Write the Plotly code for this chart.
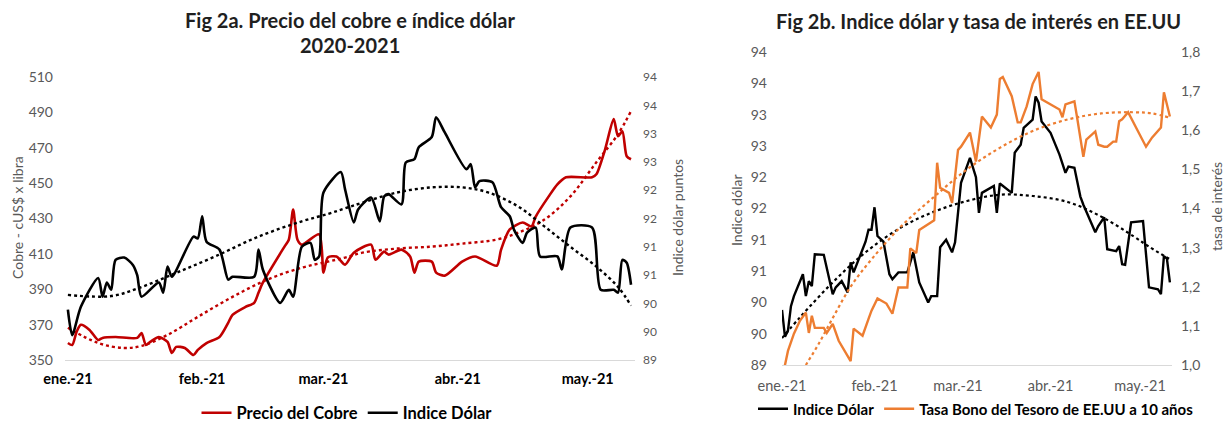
import pandas as pd
import plotly.graph_objects as go

# ---------------- Data ----------------
# Days counted from 2021-01-01
BASE = "2021-01-01"

# Fig 2a: copper price (cUS$ per lb)
cobre_dias = [0, 1, 2, 3, 5, 7, 8, 11, 16, 17, 18, 19, 21, 23, 24, 25, 27, 29, 30, 32, 35, 37, 38, 41,
              43, 44, 45, 50, 51, 52, 53, 54, 58, 59, 60, 62, 64, 66, 70, 71, 73, 74, 77, 79, 80, 81,
              84, 85, 87, 91, 94, 99, 100, 102, 105, 107, 108, 111, 113, 115, 121, 122, 124, 126, 127,
              128, 129, 130]
cobre_valores = [359.6, 358.5, 365.9, 369.9, 367, 361.3, 362.5, 363, 362.5, 365.3, 358.5, 360.2, 363,
                 360.2, 354, 357.4, 356.8, 352.8, 355.7, 359.6, 363, 371, 375.5, 380, 382.3, 388, 393.7,
                 414.1, 418, 435, 418, 415.2, 421, 399.4, 408, 408.5, 403.9, 410.7, 415.2, 406.7, 411.3,
                 409.6, 412.4, 408.5, 399.4, 405.6, 405.6, 399.4, 397.7, 405.6, 408.5, 403.3, 412.4,
                 423.8, 427.7, 425.5, 431.1, 442.5, 449.3, 453.3, 453.3, 455, 469, 486.2, 476.5, 479.3,
                 465.2, 463.5]

# Fig 2a: dollar index (points)
dolar_a_dias = [0, 1, 3, 7, 8, 9, 10, 11, 13, 15, 16, 17, 21, 22, 23, 24, 29, 30, 31, 32, 35, 37, 38,
                43, 44, 45, 49, 51, 52, 54, 56, 57, 58, 59, 63, 64, 66, 67, 70, 72, 73, 74, 77, 78, 80,
                81, 84, 85, 87, 92, 93, 94, 95, 98, 100, 102, 103, 105, 106, 108, 109, 113, 114, 116,
                121, 123, 126, 127, 128, 129, 130]
dolar_a_valores = [89.89, 89.44, 89.94, 90.45, 90.12, 90.37, 90.24, 90.77, 90.81, 90.68, 90.5, 90.12,
                   90.37, 90.19, 90.65, 90.47, 91.18, 91.15, 91.54, 91.09, 90.95, 90.42, 90.47, 90.47,
                   90.95, 90.6, 90.01, 90.24, 90.12, 91.0, 91.07, 90.77, 90.83, 91.96, 92.32, 92.01,
                   91.43, 91.66, 91.87, 91.45, 91.89, 91.93, 91.75, 92.49, 92.55, 92.76, 92.94, 93.29,
                   93.02, 92.37, 92.46, 92.05, 92.16, 92.14, 91.7, 91.54, 91.3, 91.07, 91.25, 91.34,
                   90.83, 90.83, 90.6, 91.34, 91.34, 90.24, 90.24, 90.19, 90.77, 90.72, 90.33]

# Fig 2a: trend lines (dotted)
tend_cobre_dias = [0, 7, 13, 17, 23, 30, 38, 46, 54, 60, 64, 68, 76, 84, 91, 99, 104, 110, 116, 122,
                   127, 130]
tend_cobre_valores = [368.2, 359.6, 356.8, 358, 364.2, 374.4, 385.7, 395.4, 402.2, 405.6, 407.9, 410.7,
                      413, 414.1, 415.8, 418.1, 422, 429.4, 442.5, 461.8, 477.7, 490.7]
tend_dolar_a_dias = [0, 10, 17, 25, 34, 44, 54, 60, 64, 68, 76, 84, 91, 97, 104, 110, 116, 122, 127, 130]
tend_dolar_a_valores = [90.15, 90.13, 90.29, 90.54, 90.83, 91.18, 91.45, 91.58, 91.68, 91.78, 91.96,
                        92.05, 92.05, 91.96, 91.71, 91.36, 91.0, 90.65, 90.29, 89.96]

# Fig 2b: dollar index
dolar_b_dias = [0, 1, 2, 3, 4, 7, 8, 9, 10, 11, 14, 15, 17, 18, 20, 22, 23, 24, 26, 28, 29, 30, 31, 32,
                34, 36, 37, 39, 42, 44, 46, 49, 50, 52, 53, 55, 57, 58, 60, 63, 65, 66, 67, 71, 72, 73,
                77, 78, 80, 81, 84, 85, 86, 87, 90, 92, 93, 95, 96, 98, 100, 101, 105, 106, 108, 109,
                112, 113, 114, 115, 117, 121, 123, 126, 127, 128, 129, 130]
dolar_b_valores = [89.88, 89.45, 89.55, 89.94, 90.1, 90.45, 90.1, 90.34, 90.26, 90.77, 90.76, 90.53,
                   90.13, 90.24, 90.34, 90.16, 90.64, 90.48, 90.74, 90.97, 91.16, 91.16, 91.52, 91.06,
                   90.97, 90.45, 90.37, 90.48, 90.48, 90.8, 90.32, 90.0, 90.1, 90.1, 90.88, 91.0, 90.8,
                   90.96, 91.91, 92.31, 92.0, 91.43, 91.75, 91.86, 91.43, 91.9, 91.75, 92.39, 92.52,
                   92.79, 92.92, 93.29, 93.19, 92.89, 92.71, 92.47, 92.36, 92.07, 92.17, 92.15, 91.69,
                   91.56, 91.12, 91.22, 91.36, 90.85, 90.82, 90.9, 90.61, 90.6, 91.28, 91.3, 90.24,
                   90.21, 90.13, 90.74, 90.7, 90.32]

# Fig 2b: 10-year US Treasury yield (%)
tasa_dias = [0, 1, 2, 4, 6, 8, 9, 10, 11, 14, 15, 17, 19, 21, 23, 24, 27, 29, 30, 32, 35, 37, 39, 42,
             43, 45, 46, 50, 51, 52, 53, 56, 57, 59, 60, 63, 65, 67, 70, 72, 73, 74, 77, 79, 80, 82, 84,
             86, 87, 93, 94, 95, 98, 99, 101, 102, 105, 106, 108, 109, 111, 112, 113, 114, 116, 119,
             122, 124, 127, 128, 130]
tasa_valores = [0.985, 1.0, 1.036, 1.08, 1.113, 1.134, 1.082, 1.126, 1.095, 1.095, 1.082, 1.105, 1.062,
                1.036, 1.01, 1.093, 1.075, 1.118, 1.139, 1.17, 1.157, 1.131, 1.198, 1.198, 1.298, 1.286,
                1.345, 1.365, 1.37, 1.517, 1.453, 1.44, 1.414, 1.55, 1.558, 1.594, 1.52, 1.635, 1.607,
                1.64, 1.731, 1.736, 1.687, 1.62, 1.62, 1.661, 1.718, 1.749, 1.679, 1.653, 1.633, 1.666,
                1.674, 1.628, 1.532, 1.576, 1.597, 1.563, 1.558, 1.558, 1.571, 1.571, 1.623, 1.628,
                1.646, 1.602, 1.558, 1.581, 1.607, 1.697, 1.635]

# Fig 2b: trend lines (dotted)
tend_dolar_b_dias = [0, 6, 17, 28, 40, 51, 62, 73, 84, 96, 107, 118, 123, 130]
tend_dolar_b_valores = [89.43, 89.76, 90.32, 90.8, 91.2, 91.45, 91.62, 91.72, 91.7, 91.6, 91.37, 91.05,
                        90.89, 90.69]
tend_tasa_dias = [5, 8, 12, 17, 23, 30, 40, 51, 62, 73, 84, 96, 107, 118, 124, 130]
tend_tasa_valores = [0.96, 1.0, 1.05, 1.12, 1.2, 1.27, 1.355, 1.43, 1.5, 1.555, 1.598, 1.628, 1.643,
                     1.646, 1.643, 1.632]

# Axis labels
meses_fechas = ["2021-01-01", "2021-02-01", "2021-03-01", "2021-04-01", "2021-05-01"]
meses_texto = ["ene.-21", "feb.-21", "mar.-21", "abr.-21", "may.-21"]
dolar_ticks = [89, 89.5, 90, 90.5, 91, 91.5, 92, 92.5, 93, 93.5, 94]
dolar_ticktext = ["89", "90", "90", "91", "91", "92", "92", "93", "93", "94", "94"]
tasa_ticks = [1.0, 1.1, 1.2, 1.3, 1.4, 1.5, 1.6, 1.7, 1.8]
tasa_ticktext = ["1,0", "1,1", "1,2", "1,3", "1,4", "1,5", "1,6", "1,7", "1,8"]


def fechas(dias):
    return pd.Timestamp(BASE) + pd.to_timedelta(dias, unit="D")


# ---------------- Styling ----------------
W, H = 1226, 424
FONT = "Lato"
GRAY = "#595959"
RED = "#C00000"
ORANGE = "#ED7D31"
BLACK = "#000000"

def px(x):
    return x / W

def py(y):
    return 1 - y / H

fig = go.Figure()

# ---- Fig 2a traces ----
fig.add_trace(go.Scatter(x=fechas(cobre_dias), y=cobre_valores, name="Precio del Cobre",
                         mode="lines", line=dict(color=RED, width=2.6, shape="spline", smoothing=0.7),
                         xaxis="x", yaxis="y", legend="legend"))
fig.add_trace(go.Scatter(x=fechas(dolar_a_dias), y=dolar_a_valores, name="Indice Dólar",
                         mode="lines", line=dict(color=BLACK, width=2.6, shape="spline", smoothing=0.7),
                         xaxis="x", yaxis="y2", legend="legend"))
fig.add_trace(go.Scatter(x=fechas(tend_cobre_dias), y=tend_cobre_valores, showlegend=False,
                         mode="lines", line=dict(color=RED, width=2.4, dash="dot", shape="spline"),
                         xaxis="x", yaxis="y"))
fig.add_trace(go.Scatter(x=fechas(tend_dolar_a_dias), y=tend_dolar_a_valores, showlegend=False,
                         mode="lines", line=dict(color=BLACK, width=2.4, dash="dot", shape="spline"),
                         xaxis="x", yaxis="y2"))

# ---- Fig 2b traces ----
fig.add_trace(go.Scatter(x=fechas(dolar_b_dias), y=dolar_b_valores, name="Indice Dólar",
                         mode="lines", line=dict(color=BLACK, width=2.4),
                         xaxis="x2", yaxis="y3", legend="legend2"))
fig.add_trace(go.Scatter(x=fechas(tasa_dias), y=tasa_valores,
                         name="Tasa Bono del Tesoro de EE.UU a 10 años",
                         mode="lines", line=dict(color=ORANGE, width=2.4),
                         xaxis="x2", yaxis="y4", legend="legend2"))
fig.add_trace(go.Scatter(x=fechas(tend_dolar_b_dias), y=tend_dolar_b_valores, showlegend=False,
                         mode="lines", line=dict(color=BLACK, width=2.2, dash="dot", shape="spline"),
                         xaxis="x2", yaxis="y3"))
fig.add_trace(go.Scatter(x=fechas(tend_tasa_dias), y=tend_tasa_valores, showlegend=False,
                         mode="lines", line=dict(color=ORANGE, width=2.2, dash="dot", shape="spline"),
                         xaxis="x2", yaxis="y4"))

tick_gray = dict(family=FONT, size=14, color=GRAY)
common = dict(showgrid=False, zeroline=False, ticks="", automargin=False)

fig.update_layout(
    template="none",
    width=W, height=H,
    margin=dict(l=0, r=0, t=0, b=0, autoexpand=False),
    paper_bgcolor="white", plot_bgcolor="white",
    font=dict(family=FONT, color=GRAY),
    hovermode=False,
    xaxis=dict(domain=[px(65), px(635)], anchor="y", type="date",
               range=["2020-12-31 08:00", "2021-05-11 22:00"],
               tickvals=meses_fechas, ticktext=meses_texto,
               tickfont=dict(family=FONT, size=14.5, color=BLACK, weight="bold"),
               showline=True, linecolor="#D9D9D9", linewidth=1, ticklabelstandoff=6, **common),
    yaxis=dict(domain=[py(360), py(77)], anchor="x", range=[350, 510], dtick=20, tick0=350,
               tickfont=tick_gray, showline=False, ticklabelstandoff=11, **common),
    yaxis2=dict(overlaying="y", side="right", anchor="x", range=[89, 94],
                tickvals=dolar_ticks, ticktext=dolar_ticktext,
                tickfont=dict(family=FONT, size=12, color=GRAY),
                showline=False, ticklabelstandoff=7, **common),
    xaxis2=dict(domain=[px(782), px(1172)], anchor="y3", type="date",
                range=["2021-01-01", "2021-05-11 17:00"],
                tickvals=meses_fechas, ticktext=meses_texto,
                tickfont=dict(family=FONT, size=14.5, color=GRAY),
                showline=True, linecolor="#D9D9D9", linewidth=1, ticklabelstandoff=8, **common),
    yaxis3=dict(domain=[py(365), py(52)], anchor="x2", range=[89, 94],
                tickvals=dolar_ticks, ticktext=dolar_ticktext, tickfont=tick_gray,
                showline=False, ticklabelstandoff=14, **common),
    yaxis4=dict(overlaying="y3", side="right", anchor="x2", range=[1.0, 1.8],
                tickvals=tasa_ticks, ticktext=tasa_ticktext, tickfont=tick_gray,
                showline=False, ticklabelstandoff=8, **common),
    legend=dict(orientation="h", x=px(347), y=py(413), xanchor="center", yanchor="middle",
                font=dict(family=FONT, size=16.5, color=BLACK, weight="bold"),
                bgcolor="rgba(0,0,0,0)", itemwidth=30),
    legend2=dict(orientation="h", x=px(976), y=py(409), xanchor="center", yanchor="middle",
                 font=dict(family=FONT, size=15, color=BLACK, weight="bold"),
                 bgcolor="rgba(0,0,0,0)", itemwidth=30),
)

title_font = dict(family=FONT, size=20, color="#1F1F1F", weight="bold")
annotations = [
    dict(text="Fig 2a. Precio del cobre e índice dólar", x=px(350), y=py(20), font=title_font),
    dict(text="2020-2021", x=px(350), y=py(45), font=title_font),
    dict(text="Fig 2b. Indice dólar y tasa de interés en EE.UU", x=px(978), y=py(21), font=title_font),
    dict(text="Cobre - cUS$ x libra", x=px(17), y=py(218), textangle=-90,
         font=dict(family=FONT, size=14, color=GRAY)),
    dict(text="Indice dólar puntos", x=px(677), y=py(218), textangle=-90,
         font=dict(family=FONT, size=14, color=GRAY)),
    dict(text="Indice dólar", x=px(737), y=py(210), textangle=-90,
         font=dict(family=FONT, size=14, color=GRAY)),
    dict(text="tasa de interés", x=px(1216), y=py(207), textangle=-90,
         font=dict(family=FONT, size=14, color=GRAY)),
]
for a in annotations:
    a.update(xref="paper", yref="paper", showarrow=False, xanchor="center", yanchor="middle")
fig.update_layout(annotations=annotations)

# Place the figure flush with the page's top-left corner (no default body margin)
fig.write_html("out.html",
               config={"displayModeBar": False, "staticPlot": True},
               post_script="document.body.style.margin='0';document.body.style.overflow='hidden';")
